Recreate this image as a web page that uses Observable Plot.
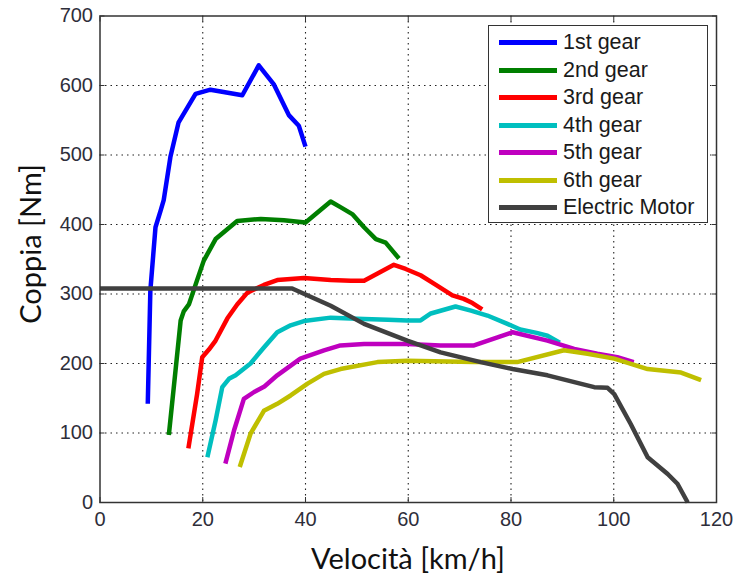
<!DOCTYPE html>
<html><head><meta charset="utf-8">
<script src="https://cdn.jsdelivr.net/npm/d3@7"></script>
<script src="https://cdn.jsdelivr.net/npm/@observablehq/plot@0.6"></script>
<style>
body{margin:0;background:#fff;}
#wrap{position:relative;width:739px;height:576px;}
#legend{position:absolute;left:488px;top:25px;width:220px;height:198px;border:1.5px solid #333;background:#fff;box-sizing:border-box;font-family:"Liberation Sans",Arial,sans-serif;font-size:21.5px;color:#1a1a1a;}
.row{position:absolute;left:10px;height:27px;display:flex;align-items:center;white-space:nowrap;}
.sw{width:58px;height:5px;margin-right:6px;}
.title{position:absolute;font-family:Lato,sans-serif;font-size:29px;color:#111;white-space:nowrap;line-height:1;}
#xtitle{left:408px;top:557px;transform:translate(-50%,-50%);}
#ytitle{left:29px;top:244px;transform:translate(-50%,-50%) rotate(-90deg);}
</style></head><body><div id="wrap"></div>
<script>
const seriesNames = ["1st gear","2nd gear","3rd gear","4th gear","5th gear","6th gear","Electric Motor"];
const seriesColors = ["#0000ff","#007f00","#ff0000","#00bfbf","#bf00bf","#bfbf00","#404040"];
const xTicks = [0,20,40,60,80,100,120];
const yTicks = [0,100,200,300,400,500,600,700];
const xTitle = "Velocità [km/h]";
const yTitle = "Coppia [Nm]";

const gear1X = [9.3, 9.8, 10.8, 11.8, 12.4, 13.7, 15.3, 18.6, 21.5, 27.7, 30.9, 33.8, 36.8, 38.7, 40.0];
const gear1Y = [142, 305, 396, 420, 435, 497, 547, 588, 594, 586, 629, 602, 557, 542, 512];
const gear2X = [13.4, 14.7, 15.7, 16.3, 17.3, 18.9, 20.2, 22.5, 26.7, 31.3, 35.8, 40.0, 44.9, 46.8, 49.1, 51.4, 53.7, 55.6, 58.2];
const gear2Y = [97, 190, 262, 275, 285, 320, 348, 379, 405, 408, 406, 403, 433, 425, 415, 396, 379, 374, 351];
const gear3X = [17.2, 18.9, 19.9, 21.2, 22.5, 24.8, 26.7, 28.7, 31.9, 34.5, 39.7, 44.9, 48.8, 51.4, 57.2, 59.5, 62.4, 65.0, 68.6, 70.8, 72.5, 74.4];
const gear3Y = [78, 156, 209, 220, 233, 265, 285, 302, 313, 320, 323, 320, 319, 319, 342, 336, 327, 315, 298, 293, 287, 278];
const gear4X = [20.9, 22.5, 23.8, 25.1, 26.4, 29.3, 31.9, 34.5, 37.1, 39.7, 44.9, 51.4, 56.0, 59.8, 62.4, 64.4, 69.2, 72.2, 75.4, 79.3, 81.8, 85.0, 87.1, 89.5];
const gear4Y = [65, 118, 166, 178, 183, 200, 223, 245, 255, 261, 266, 264, 263, 262, 262, 272, 282, 276, 269, 257, 249, 244, 240, 230];
const gear5X = [24.4, 26.1, 28.0, 30.0, 32.0, 34.5, 39.0, 43.6, 46.8, 51.4, 59.8, 66.3, 72.8, 80.3, 87.1, 92.3, 96.8, 100.7, 103.9];
const gear5Y = [56, 104, 149, 159, 167, 183, 207, 219, 226, 228, 228, 226, 226, 245, 233, 221, 214, 209, 202];
const gear6X = [27.2, 29.3, 31.9, 34.5, 37.1, 40.4, 43.6, 46.8, 54.0, 59.8, 72.8, 81.2, 90.3, 94.9, 100.1, 106.6, 113.1, 117.0];
const gear6Y = [51, 99, 132, 142, 154, 171, 185, 192, 202, 204, 202, 202, 219, 214, 207, 192, 187, 176];
const motorX = [0, 37.4, 44.9, 51.4, 59.8, 66.3, 74.1, 80.3, 87.1, 96.2, 98.8, 100.1, 103.3, 106.6, 110.5, 112.4, 114.4];
const motorY = [308, 308, 283, 257, 233, 216, 202, 192, 183, 166, 165, 156, 113, 65, 41, 27, 0];

const allX = [gear1X, gear2X, gear3X, gear4X, gear5X, gear6X, motorX];
const allY = [gear1Y, gear2Y, gear3Y, gear4Y, gear5Y, gear6Y, motorY];
const data = [];
seriesNames.forEach((name, s) => allX[s].forEach((x, i) => data.push({series: name, x, y: allY[s][i]})));

const gridStyle = {stroke: "#222", strokeOpacity: 1, strokeWidth: 1.1, strokeDasharray: "1.5,4"};
const chart = Plot.plot({
  width: 739, height: 576,
  marginLeft: 99.5, marginRight: 23, marginTop: 15.5, marginBottom: 74,
  style: {background: "white", fontFamily: "Liberation Sans, Arial, sans-serif"},
  x: {domain: [0, 120]},
  y: {domain: [0, 700]},
  color: {domain: seriesNames, range: seriesColors},
  marks: [
    Plot.gridX(xTicks.slice(1, -1), gridStyle),
    Plot.gridY(yTicks.slice(1, -1), gridStyle),
    Plot.line(data, {x: "x", y: "y", z: "series", stroke: "series", strokeWidth: 4.5, strokeLinejoin: "round", strokeLinecap: "butt"}),
    Plot.axisX(xTicks, {anchor: "bottom", tickSize: 0, tickPadding: 9, fontSize: 20, color: "#2e2e3a", label: null}),
    Plot.axisY(yTicks, {anchor: "left", tickSize: 0, tickPadding: 7, fontSize: 20, color: "#2e2e3a", label: null}),
    Plot.axisX(xTicks, {anchor: "bottom", tickSize: -5, text: null, label: null, stroke: "#333"}),
    Plot.axisX(xTicks, {anchor: "top", tickSize: -5, text: null, label: null, stroke: "#333"}),
    Plot.axisY(yTicks, {anchor: "left", tickSize: -5, text: null, label: null, stroke: "#333"}),
    Plot.axisY(yTicks, {anchor: "right", tickSize: -5, text: null, label: null, stroke: "#333"}),
    Plot.frame({stroke: "#333", strokeWidth: 1.5})
  ]
});
const wrap = document.getElementById("wrap");
wrap.appendChild(chart);
const xt = document.createElement("div"); xt.id = "xtitle"; xt.className = "title"; xt.textContent = xTitle; wrap.appendChild(xt);
const yt = document.createElement("div"); yt.id = "ytitle"; yt.className = "title"; yt.textContent = yTitle; wrap.appendChild(yt);
const legend = document.createElement("div");
legend.id = "legend";
seriesNames.forEach((name, i) => {
  const row = document.createElement("div");
  row.className = "row";
  row.style.top = (3 + i * 27.5) + "px";
  const sw = document.createElement("span");
  sw.className = "sw";
  sw.style.background = seriesColors[i];
  const t = document.createElement("span");
  t.textContent = name;
  row.appendChild(sw); row.appendChild(t);
  legend.appendChild(row);
});
wrap.appendChild(legend);
</script></body></html>
